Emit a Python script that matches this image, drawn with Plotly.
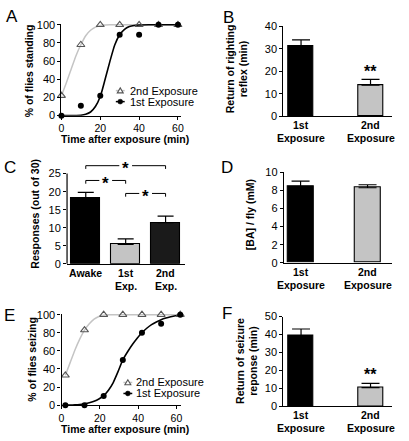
import plotly.graph_objects as go

W, H = 409, 441
FONT = "Liberation Sans, Arial, Helvetica, sans-serif"
GRAY = "#c4c4c4"
TRI_EDGE = "#555555"

# ---------------- data ----------------
# Panel A: righting reflex recovery
time_a = [0, 10, 20, 30, 40, 50, 60]
standing_2nd = [22, 78, 100, 100, 100, 100, 100]
standing_1st = [0, 11, 22, 89, 89, 100, 100]
fit_a_x = [0, 2.5, 5, 7.5, 10, 12.5, 15, 17.5, 20, 22.5, 25, 27.5, 30, 32.5, 35, 37.5, 40, 45, 50, 55, 60]
fit_a_2nd = [22, 36, 51, 66, 78, 88, 94, 97.5, 99.3, 99.8, 100, 100, 100, 100, 100, 100, 100, 100, 100, 100, 100]
fit_a_1st = [0, 0, 0, 0.1, 0.4, 1.5, 4, 10, 21, 40, 60, 78, 89, 95, 98, 99.3, 99.8, 100, 100, 100, 100]

# Panel B
b_labels = ["1st<br>Exposure", "2nd<br>Exposure"]
b_values = [31.0, 13.8]
b_err = [2.9, 2.6]
b_star = "**"
b_star_level = 21.6

# Panel C
c_labels = ["Awake", "1st<br>Exp.", "2nd<br>Exp."]
c_values = [18.2, 5.4, 11.4]
c_err = [1.6, 1.5, 1.8]
c_pairs = [(0, 2), (0, 1), (1, 2)]
c_levels = [27.2, 23.1, 19.5]

# Panel D
d_labels = ["1st<br>Exposure", "2nd<br>Exposure"]
d_values = [8.4, 8.3]
d_err = [0.63, 0.33]

# Panel E: seizure recovery
time_e = [2, 12, 22, 32, 42, 52, 62]
seizing_2nd = [33, 83, 100, 100, 100, 100, 100]
seizing_1st = [0, 0, 10, 50, 80, 90, 100]
fit_e_x = [2, 4.5, 7, 9.5, 12, 14.5, 17, 19.5, 22, 24.5, 27, 29.5, 32, 34.5, 37, 39.5, 42, 44.5, 47, 49.5, 52, 54.5, 57, 59.5, 62]
fit_e_2nd = [33, 47, 61, 73, 83, 90, 95, 98, 99.5, 100, 100, 100, 100, 100, 100, 100, 100, 100, 100, 100, 100, 100, 100, 100, 100]
fit_e_1st = [0, 0.1, 0.3, 0.7, 1.5, 2.6, 4.3, 6.8, 10.5, 16.5, 25, 37, 50, 59, 67, 74, 80, 85, 89, 92, 94.5, 96.3, 97.7, 98.8, 99.5]

# Panel F
f_labels = ["1st<br>Exposure", "2nd<br>Exposure"]
f_values = [39.5, 10.5]
f_err = [3.6, 2.4]
f_star = "**"
f_star_level = 19.9


def px(x):
    return x / W


def py(y):
    return 1 - y / H


fig = go.Figure()

# ---------------- axes layout ----------------
axis_common = dict(showline=True, linecolor="black", linewidth=1.2, showgrid=False,
                   zeroline=False, ticks="outside", ticklen=3, tickwidth=1.1,
                   tickcolor="black", tickfont=dict(family=FONT, size=11, color="black"))
cat_axis = dict(axis_common, ticks="", showticklabels=False)
time_axis = dict(axis_common, tickfont=dict(family=FONT, size=10.5, color="black"))

layout_axes = {
    # A
    "xaxis": dict(time_axis, domain=[px(59.3), px(180.5)], range=[0, 61.5], anchor="y",
                  tickvals=[0, 20, 40, 60]),
    "yaxis": dict(axis_common, domain=[py(112.7), py(18.4)], range=[0, 101], anchor="x",
                  tickvals=[0, 20, 40, 60, 80, 100]),
    # B
    "xaxis2": dict(cat_axis, domain=[px(284.5), px(395)], range=[-0.255, 1.312], anchor="y2"),
    "yaxis2": dict(axis_common, domain=[py(113.3), py(20.7)], range=[0, 40], anchor="x2",
                   tickvals=[0, 10, 20, 30, 40]),
    # C
    "xaxis3": dict(cat_axis, domain=[px(65), px(185)], range=[-0.469, 2.494], anchor="y3"),
    "yaxis3": dict(axis_common, domain=[py(265), py(265 - 28.5 * 3.708)], range=[0, 28.5], anchor="x3",
                   tickvals=[0, 5, 10, 15, 20, 25], showline=False),
    # D
    "xaxis4": dict(cat_axis, domain=[px(285), px(395)], range=[-0.25, 1.368], anchor="y4"),
    "yaxis4": dict(axis_common, domain=[py(264), py(171)], range=[0, 10], anchor="x4",
                   tickvals=[0, 2, 4, 6, 8, 10]),
    # E
    "xaxis5": dict(time_axis, domain=[px(59.4), px(180.5)], range=[0, 62.3], anchor="y5",
                   tickvals=[0, 20, 40, 60]),
    "yaxis5": dict(axis_common, domain=[py(410.3), py(316.4)], range=[0, 101], anchor="x5",
                   tickvals=[0, 20, 40, 60, 80, 100]),
    # F
    "xaxis6": dict(cat_axis, domain=[px(284.5), px(395)], range=[-0.255, 1.312], anchor="y6"),
    "yaxis6": dict(axis_common, domain=[py(411.7), py(319.3)], range=[0, 50], anchor="x6",
                   tickvals=[0, 10, 20, 30, 40, 50]),
}


# ---------------- curve panels ----------------
def curve_panel(xa, ya, t, v2, v1, fx, f2, f1):
    fig.add_trace(go.Scatter(x=fx, y=f2, mode="lines", line=dict(color=GRAY, width=1.5, shape="spline", smoothing=0.6),
                             xaxis=xa, yaxis=ya, showlegend=False, hoverinfo="skip"))
    fig.add_trace(go.Scatter(x=fx, y=f1, mode="lines", line=dict(color="black", width=1.6, shape="spline", smoothing=0.6),
                             xaxis=xa, yaxis=ya, showlegend=False, hoverinfo="skip"))
    fig.add_trace(go.Scatter(x=t, y=v2, mode="markers", name="2nd Exposure", cliponaxis=False,
                             marker=dict(symbol="triangle-up-open", size=7, color=TRI_EDGE, line=dict(width=1.1)),
                             xaxis=xa, yaxis=ya, showlegend=False))
    fig.add_trace(go.Scatter(x=t, y=v1, mode="markers", name="1st Exposure", cliponaxis=False,
                             marker=dict(symbol="circle", size=6, color="black"),
                             xaxis=xa, yaxis=ya, showlegend=False))


curve_panel("x", "y", time_a, standing_2nd, standing_1st, fit_a_x, fit_a_2nd, fit_a_1st)
curve_panel("x5", "y5", time_e, seizing_2nd, seizing_1st, fit_e_x, fit_e_2nd, fit_e_1st)

shapes = []
annotations = []


# ---------------- bar panels ----------------
def bar_panel(xa, ya, labels, vals, errs, colors, width, capw, axis_px):
    fig.add_trace(go.Bar(x=list(range(len(vals))), y=vals, width=width, xaxis=xa, yaxis=ya, showlegend=False,
                         marker=dict(color=colors, line=dict(color="black", width=1.1)),
                         error_y=dict(type="data", array=errs, arrayminus=[0] * len(errs), symmetric=False,
                                      color="black", thickness=1.2, width=capw)))
    # category labels (bold, two lines, tight spacing)
    for i, lab in enumerate(labels):
        for j, line in enumerate(lab.split("<br>")):
            annotations.append(dict(text=f"<b>{line}</b>", x=i, y=py(axis_px + 9 + 13.3 * j),
                                    xref=xa, yref="paper", showarrow=False, xanchor="center", yanchor="middle",
                                    font=dict(family=FONT, size=10.5, color="black")))


bar_panel("x2", "y2", b_labels, b_values, b_err, ["black", GRAY], 0.355, 9, 113.3)
bar_panel("x3", "y3", c_labels, c_values, c_err, ["black", GRAY, "#1a1a1a"], 0.74, 8, 265.5)
bar_panel("x4", "y4", d_labels, d_values, d_err, ["black", GRAY], 0.39, 9, 264)
bar_panel("x6", "y6", f_labels, f_values, f_err, ["black", GRAY], 0.355, 9, 411.7)

# C axis line (drawn to 25 only)
c_dom = layout_axes["yaxis3"]["domain"]
c_y25 = c_dom[0] + (c_dom[1] - c_dom[0]) * 25 / 28.5
shapes.append(dict(type="line", xref="paper", yref="paper", x0=px(65), x1=px(65), y0=c_dom[0], y1=c_y25,
                   line=dict(color="black", width=1.2)))

# C significance brackets
gap = 0.16
for (a, b), lev in zip(c_pairs, c_levels):
    mid = (a + b) / 2
    for x0, x1 in [(a, mid - gap), (mid + gap, b)]:
        shapes.append(dict(type="line", xref="x3", yref="y3", x0=x0, x1=x1, y0=lev, y1=lev,
                           line=dict(color="black", width=1)))
    for xe in (a, b):
        shapes.append(dict(type="line", xref="x3", yref="y3", x0=xe, x1=xe, y0=lev, y1=lev - 0.9,
                           line=dict(color="black", width=1)))
    annotations.append(dict(text="<b>*</b>", x=mid, y=lev, xref="x3", yref="y3", showarrow=False,
                            yanchor="middle", yshift=-3, font=dict(family=FONT, size=17, color="black")))

# significance stars B and F
annotations.append(dict(text=f"<b>{b_star}</b>", x=1, y=b_star_level, xref="x2", yref="y2", showarrow=False,
                        yanchor="middle", yshift=-4, font=dict(family=FONT, size=16, color="black")))
annotations.append(dict(text=f"<b>{f_star}</b>", x=1, y=f_star_level, xref="x6", yref="y6", showarrow=False,
                        yanchor="middle", yshift=-4, font=dict(family=FONT, size=16, color="black")))


# legends (drawn key + text)
def legend_key(xc, y2, y1, xt):
    shapes.append(dict(type="line", xref="paper", yref="paper", x0=px(xc - 4.5), x1=px(xc + 4.5),
                       y0=py(y2), y1=py(y2), line=dict(color=GRAY, width=1.5)))
    shapes.append(dict(type="path", xref="paper", yref="paper",
                       path=f"M {px(xc - 3)} {py(y2 + 2.3)} L {px(xc + 3)} {py(y2 + 2.3)} L {px(xc)} {py(y2 - 2.8)} Z",
                       fillcolor="white", line=dict(color=TRI_EDGE, width=1.1)))
    shapes.append(dict(type="line", xref="paper", yref="paper", x0=px(xc - 4.5), x1=px(xc + 4.5),
                       y0=py(y1), y1=py(y1), line=dict(color="black", width=1.5)))
    shapes.append(dict(type="circle", xref="paper", yref="paper", x0=px(xc - 2.5), x1=px(xc + 2.5),
                       y0=py(y1 + 2.5), y1=py(y1 - 2.5), fillcolor="black", line=dict(color="black", width=0.5)))
    for txt, yy in (("2nd Exposure", y2), ("1st Exposure", y1)):
        annotations.append(dict(text=txt, x=px(xt), y=py(yy), xref="paper", yref="paper", showarrow=False,
                                xanchor="left", yanchor="middle", xshift=-1,
                                font=dict(family=FONT, size=11, color="black")))


legend_key(119, 87, 98.3, 127.5)
legend_key(126.7, 387, 398.3, 134.3)


# axis titles
def ytitle(text, xc, yc):
    annotations.append(dict(text=text, x=px(xc), y=py(yc), xref="paper", yref="paper", showarrow=False,
                            textangle=-90, xanchor="center", yanchor="middle",
                            font=dict(family=FONT, size=10.5, color="black")))


ytitle("<b>% of flies standing</b>", 26, 66.5)
ytitle("<b>Return of righting</b><br><b>reflex (min)</b>", 237.5, 65)
ytitle("<b>Responses (out of 30)</b>", 33, 214)
ytitle("<b>[BA] / fly (mM)</b>", 250.7, 215)
ytitle("<b>% of flies seizing</b>", 30, 363)
ytitle("<b>Return of seizure</b><br><b>reponse (min)</b>", 247.5, 365)

for yc in (136.5, 434.8):
    annotations.append(dict(text="<b>Time after exposure (min)</b>", x=px(124), y=py(yc), xref="paper",
                            yref="paper", showarrow=False, xanchor="center", yanchor="middle",
                            font=dict(family=FONT, size=10.5, color="black")))

# panel letters
for letter, xc, yc in (("A", 9, 11), ("B", 229, 12), ("C", 7.5, 166.5), ("D", 227.5, 166.5),
                       ("E", 7, 318.5), ("F", 227.5, 316.5)):
    annotations.append(dict(text=letter, x=px(xc), y=py(yc), xref="paper", yref="paper", showarrow=False,
                            xanchor="center", yanchor="middle", font=dict(family=FONT, size=17, color="black")))

fig.update_layout(width=W, height=H, margin=dict(l=0, r=0, t=0, b=0), paper_bgcolor="white",
                  plot_bgcolor="white", showlegend=False, bargap=0, shapes=shapes, annotations=annotations,
                  font=dict(family=FONT, color="black"), **layout_axes)

fig.write_html("out.html", config={"displayModeBar": False},
               post_script="document.body.style.margin='0';document.body.style.overflow='hidden';")
